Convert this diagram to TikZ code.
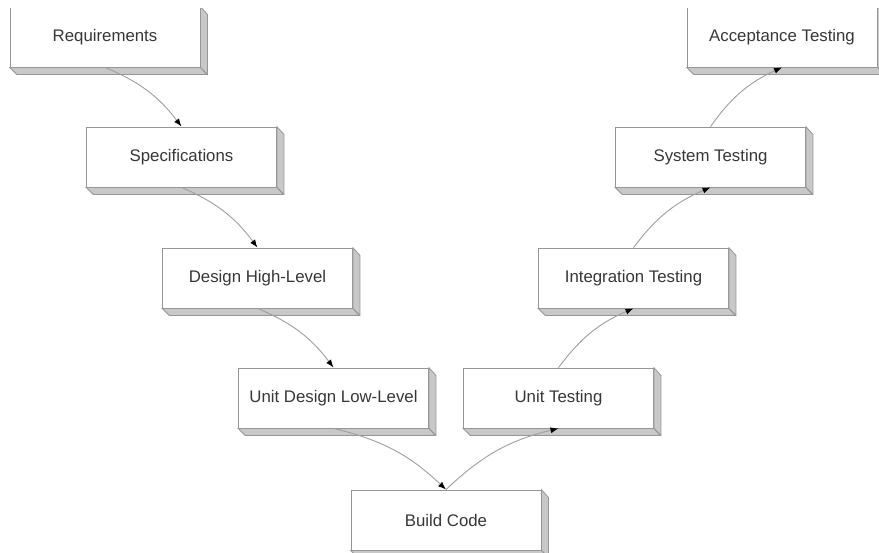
\documentclass[tikz,border=0pt]{standalone}
\usepackage{fontspec}
\setmainfont{Liberation Sans}
\usetikzlibrary{arrows.meta}

\definecolor{boxline}{RGB}{150,150,150}
\definecolor{boxside}{RGB}{200,200,200}
\definecolor{linkline}{RGB}{160,160,160}
\definecolor{labeltext}{RGB}{55,55,55}

\tikzset{
  phase/.style={draw=boxline, fill=white, line width=0.6pt, inner sep=0pt,
    minimum width=142.5pt, minimum height=45pt, text=labeltext,
    font=\fontsize{12.6}{15}\selectfont},
  face/.style={fill=boxside, draw=boxline, line width=0.6pt},
  flow/.style={draw=linkline, line width=0.7pt, -{Latex[length=6pt,width=4.5pt,fill=black,color=black]}},
}

\begin{document}
\begin{tikzpicture}[x=0.75pt,y=0.75pt,yscale=-1,xscale=1]
\useasboundingbox (0,0) rectangle (879,553);
\begin{scope}
\clip (0,8) rectangle (879,553);

% Phase boxes, left leg
\node[phase] (req) at (105,37) {Requirements};
\node[phase] (spec) at (181.5,157) {Specifications};
\node[phase] (hld) at (257.5,278) {Design High-Level};
\node[phase] (lld) at (333.5,398) {Unit Design Low-Level};
% bottom
\node[phase] (build) at (446,520) {Build Code};
% Phase boxes, right leg
\node[phase] (unit) at (558.5,398) {Unit Testing};
\node[phase] (integ) at (633.5,278) {Integration Testing};
\node[phase] (sys) at (710.5,157) {System Testing};
\node[phase] (accept) at (782,37) {Acceptance Testing};

% 3d sides
\foreach \b in {req,spec,hld,lld,build,unit,integ,sys,accept}{
  \draw[face] (\b.south east) -- ++(7,7) -- ++(0,-60) -- (\b.north east) -- cycle;
  \draw[face] (\b.south west) -- ++(7,7) -- ++(190,0) -- (\b.south east) -- cycle;
}

% Connectors
\draw[flow] (req.south) to[bend right=15] (spec.north);
\draw[flow] (spec.south) to[bend right=15] (hld.north);
\draw[flow] (hld.south) to[bend right=15] (lld.north);
\draw[flow] (lld.south) to[bend right=15] (build.north);
\draw[flow] (build.north) to[bend right=15] (unit.south);
\draw[flow] (unit.north) to[bend right=15] (integ.south);
\draw[flow] (integ.north) to[bend right=15] (sys.south);
\draw[flow] (sys.north) to[bend right=15] (accept.south);
\end{scope}
\end{tikzpicture}
\end{document}
